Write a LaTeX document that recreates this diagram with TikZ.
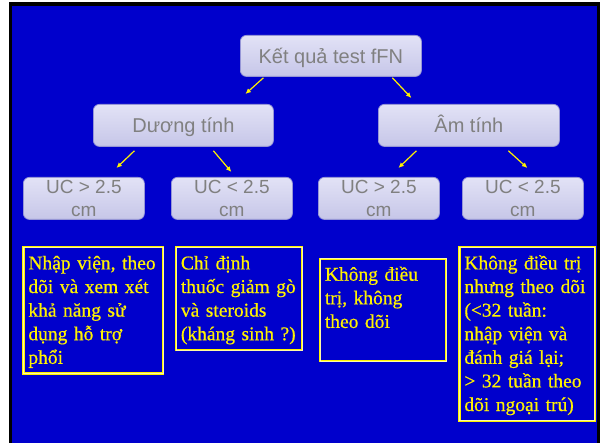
\documentclass[tikz,border=0pt]{standalone}
\usepackage{fontspec}
\setmainfont{Liberation Serif}
\setsansfont{Liberation Sans}
\newfontfamily\notefont{Liberation Serif}[FakeBold=0.6]
\usetikzlibrary{arrows.meta}

\definecolor{slideblue}{RGB}{0,0,204}
\definecolor{boxtop}{RGB}{226,226,246}
\definecolor{boxbottom}{RGB}{198,198,232}
\definecolor{boxedge}{RGB}{150,150,215}
\definecolor{labelgray}{RGB}{128,128,128}

\tikzset{
  grey box/.style={rounded corners=6pt, draw=boxedge, line width=0.8pt,
    top color=boxtop, bottom color=boxbottom, text=labelgray,
    anchor=north west, inner sep=0pt},
  head box/.style={grey box, font=\sffamily\fontsize{20}{24}\selectfont,
    text height=14.3pt, text depth=0pt},
  uc box/.style={grey box, font=\sffamily\fontsize{19}{22.7}\selectfont,
    align=center, minimum width=121pt, minimum height=42pt},
  note box/.style={draw=yellow, double=yellow!35!white, double distance=0.6pt,
    line width=0.8pt, anchor=north west, inner xsep=5pt, inner ysep=5.5pt,
    text=yellow, font=\notefont\fontsize{19.5}{23.6}\selectfont, align=left},
  arrow/.style={draw=yellow, line width=1.2pt, -{Latex[length=5.5pt,width=5pt]}}
}

\begin{document}
\begin{tikzpicture}[x=1pt, y=-1pt]
  % Sizes
  \pgfmathsetmacro{\headh}{41}
  \pgfmathsetmacro{\midh}{42}
  \useasboundingbox (0,0) rectangle (603,443);

  % background
  \fill[white] (0,0) rectangle (603,443);
  \fill[black] (9,2) rectangle (600,443);
  \fill[slideblue] (12,6) rectangle (597,443);

  % boxes
  \node[head box, minimum width=181pt, minimum height=\headh pt] (fFN) at (240,35) {Kết quả test fFN};
  \node[head box, minimum width=180pt, minimum height=\midh pt] (pos) at (93,104) {Dương tính};
  \node[head box, minimum width=181pt, minimum height=\midh pt] (neg) at (378,104) {Âm tính};

  \node[uc box] (posbig) at (23,177) {UC > 2.5\\cm};
  \node[uc box] (possmall) at (171,177) {UC < 2.5\\cm};
  \node[uc box] (negbig) at (318,177) {UC > 2.5\\cm};
  \node[uc box] (negsmall) at (462,177) {UC < 2.5\\cm};

  % arrows
  \draw[arrow] ([shift={(-67.5,1)}]fFN.south) -- ([shift={(62,-10)}]pos.north);
  \draw[arrow] ([shift={(61.5,1)}]fFN.south) -- ([shift={(-57.5,-6)}]neg.north);
  \draw[arrow] ([shift={(-49,4)}]pos.south) -- ([shift={(32.5,-9)}]posbig.north);
  \draw[arrow] ([shift={(30,4)}]pos.south) -- ([shift={(-0.5,-5)}]possmall.north);
  \draw[arrow] ([shift={(-52.5,4)}]neg.south) -- ([shift={(19.5,-9)}]negbig.north);
  \draw[arrow] ([shift={(39.5,4)}]neg.south) -- ([shift={(4.5,-9)}]negsmall.north);

  % notes
  \node[note box, text width=129.5pt] (admit) at (23,247)
    {\strut\mbox{Nhập viện, theo}\\ \mbox{dõi và xem xét}\\ \mbox{khả năng sử}\\ \mbox{dụng hỗ trợ}\\ phổi};
  \node[note box, text width=116.4pt] (tocolysis) at (175.5,247)
    {\strut\mbox{Chỉ định}\\ \mbox{thuốc giảm gò}\\ \mbox{và steroids}\\ \mbox{(kháng sinh ?)}};
  \node[note box, text width=116pt] (nocare) at (319.5,258.3)
    {\strut\mbox{Không điều}\\ \mbox{trị, không}\\ \mbox{theo dõi}\\ \rule[-4.2pt]{0pt}{4.2pt}};
  \node[note box, text width=125.3pt] (watch) at (459,247)
    {\strut\mbox{Không điều trị}\\ \mbox{nhưng theo dõi}\\ \mbox{(<32 tuần:}\\ \mbox{nhập viện và}\\ \mbox{đánh giá lại;}\\ \mbox{> 32 tuần theo}\\ \mbox{dõi ngoại trú)}};
\end{tikzpicture}
\end{document}
